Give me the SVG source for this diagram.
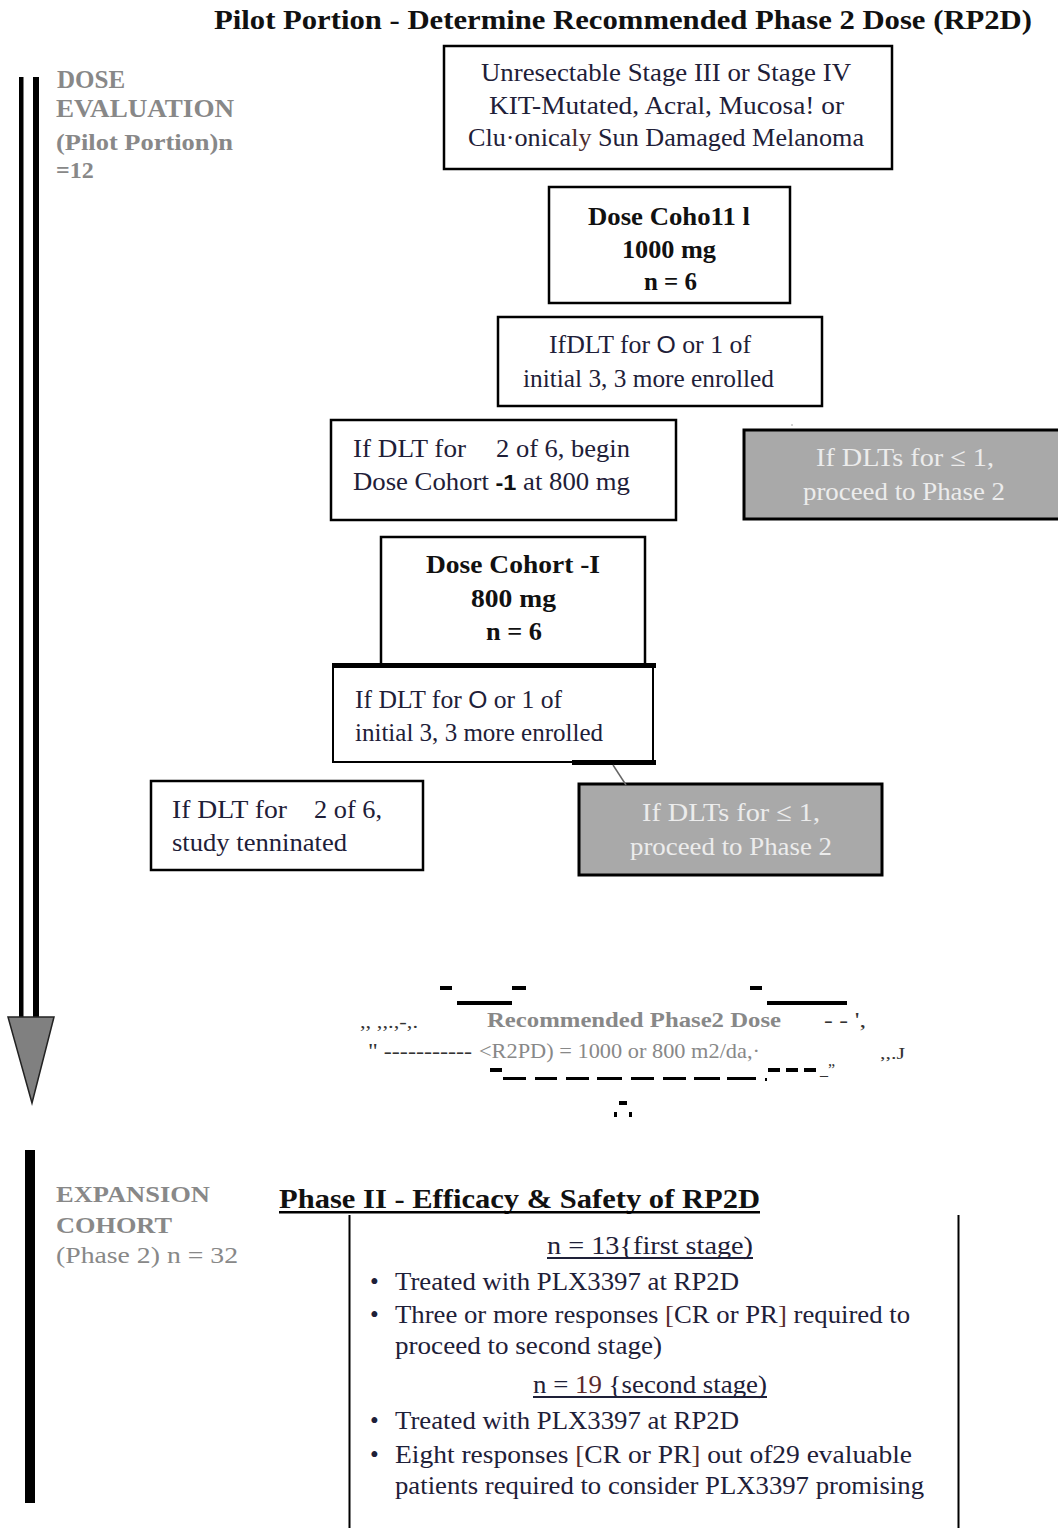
<svg xmlns="http://www.w3.org/2000/svg" width="1058" height="1528" viewBox="0 0 1058 1528">
<style>
text{font-family:"Liberation Serif","Times New Roman",serif}
.t{fill:#1e2038}
.b{font-weight:bold}
.k{fill:#111}
.g{fill:#888}
.w{fill:#ececec}
.d{fill:#333}
.box{fill:#fff;stroke:#000;stroke-width:2.5}
.gbox{fill:#a9a9a9;stroke:#000;stroke-width:3}
.sans{font-family:"Liberation Sans",Arial,sans-serif}
</style>
<rect width="1058" height="1528" fill="#fff"/>
<text class="b k" x="214" y="29" font-size="27" textLength="818" lengthAdjust="spacingAndGlyphs">Pilot Portion - Determine Recommended Phase 2 Dose (RP2D)</text>

<g id="pilot-label">
<rect x="19" y="77" width="4.5" height="940" fill="#000"/>
<rect x="33" y="77" width="6" height="940" fill="#000"/>
<polygon points="8,1017 54,1017 32,1103" fill="#808080" stroke="#222" stroke-width="1.5"/>
<text class="b g" x="57" y="88" font-size="25">DOSE</text>
<text class="b g" x="56" y="117" font-size="25" textLength="178" lengthAdjust="spacingAndGlyphs">EVALUATION</text>
<text class="b g" x="56" y="150" font-size="24" textLength="177" lengthAdjust="spacingAndGlyphs">(Pilot Portion)n</text>
<text class="b g" x="56" y="178" font-size="24">=12</text>
</g>

<g id="n-population">
<rect class="box" x="444" y="46" width="448" height="123"/>
<text class="t" x="481" y="81" font-size="26" textLength="370" lengthAdjust="spacingAndGlyphs">Unresectable Stage III or Stage IV</text>
<text class="t" x="489" y="114" font-size="26" textLength="355" lengthAdjust="spacingAndGlyphs">KIT-Mutated, Acral, Mucosa! or</text>
<text class="t" x="468" y="146" font-size="26" textLength="396" lengthAdjust="spacingAndGlyphs">Clu·onica<tspan fill="#4a2a2a">ly</tspan> Sun Damaged Melanoma</text>
</g>

<g id="n-cohort1">
<rect class="box" x="549" y="187" width="241" height="116"/>
<text class="b k" x="588" y="225" font-size="26" textLength="162" lengthAdjust="spacingAndGlyphs">Dose Coho11 l</text>
<text class="b k" x="622" y="258" font-size="26" textLength="94" lengthAdjust="spacingAndGlyphs">1000 mg</text>
<text class="b k" x="644" y="290" font-size="26" textLength="53" lengthAdjust="spacingAndGlyphs">n = 6</text>
</g>

<g id="n-dlt1">
<rect class="box" x="498" y="317" width="324" height="89"/>
<text class="t" x="549" y="353" font-size="25" textLength="202" lengthAdjust="spacingAndGlyphs">IfDLT for <tspan class="sans" font-size="24">O</tspan> or 1 of</text>
<text class="t" x="523" y="387" font-size="25" textLength="251" lengthAdjust="spacingAndGlyphs">initial 3, 3 more enrolled</text>
</g>

<g id="n-begin-minus1">
<rect class="box" x="331" y="420" width="345" height="100"/>
<text class="t" x="353" y="457" font-size="25" textLength="113" lengthAdjust="spacingAndGlyphs">If DLT for</text>
<text class="t" x="496" y="457" font-size="25" textLength="134" lengthAdjust="spacingAndGlyphs">2 of 6, begin</text>
<text class="t" x="353" y="490" font-size="25" textLength="277" lengthAdjust="spacingAndGlyphs">Dose Cohort <tspan class="sans b k" font-size="22">-1</tspan> at 800 mg</text>
</g>

<g id="n-proceed1">
<rect class="gbox" x="744" y="430" width="318" height="89"/>
<circle cx="792" cy="425" r="0.8" fill="#999"/>
<text class="w" x="816" y="466" font-size="26" textLength="178" lengthAdjust="spacingAndGlyphs">If DLTs for ≤ 1,</text>
<text class="w" x="803" y="500" font-size="26" textLength="202" lengthAdjust="spacingAndGlyphs">proceed to Phase 2</text>
</g>

<g id="n-cohort-minus1">
<path d="M381,665 V537 H645 V665" fill="#fff" stroke="#000" stroke-width="2.5"/>
<text class="b k" x="426" y="573" font-size="26" textLength="174" lengthAdjust="spacingAndGlyphs">Dose Cohort -I</text>
<text class="b k" x="471" y="607" font-size="26" textLength="85" lengthAdjust="spacingAndGlyphs">800 mg</text>
<text class="b k" x="486" y="640" font-size="26" textLength="56" lengthAdjust="spacingAndGlyphs">n = 6</text>
</g>

<g id="n-dlt2">
<rect x="333" y="665" width="320" height="97" fill="#fff" stroke="#000" stroke-width="2"/>
<rect x="332" y="663" width="324" height="5" fill="#000"/>
<rect x="572" y="760" width="84" height="5" fill="#000"/>
<text class="t" x="355" y="708" font-size="25" textLength="207" lengthAdjust="spacingAndGlyphs">If DLT for <tspan class="sans" font-size="24">O</tspan> or 1 of</text>
<text class="t" x="355" y="741" font-size="25" textLength="248" lengthAdjust="spacingAndGlyphs">initial 3, 3 more enrolled</text>
</g>

<g id="n-terminated">
<rect class="box" x="151" y="781" width="272" height="89"/>
<text class="t" x="172" y="818" font-size="25" textLength="115" lengthAdjust="spacingAndGlyphs">If DLT for</text>
<text class="t" x="314" y="818" font-size="25" textLength="68" lengthAdjust="spacingAndGlyphs">2 of 6,</text>
<text class="t" x="172" y="851" font-size="25" textLength="175" lengthAdjust="spacingAndGlyphs">study tenninated</text>
</g>

<g id="n-proceed2">
<rect class="gbox" x="579" y="784" width="303" height="91"/>
<text class="w" x="642" y="821" font-size="26" textLength="178" lengthAdjust="spacingAndGlyphs">If DLTs for ≤ 1,</text>
<text class="w" x="630" y="855" font-size="26" textLength="202" lengthAdjust="spacingAndGlyphs">proceed to Phase 2</text>
</g>

<g id="connectors">
<line x1="613" y1="765" x2="626" y2="785" stroke="#666" stroke-width="1.5"/>
</g>

<g id="n-rp2d">
<g fill="#000">
<rect x="440" y="986" width="12" height="4"/>
<rect x="512" y="986" width="14" height="4"/>
<rect x="750" y="986" width="12" height="4"/>
<rect x="457" y="1001" width="55" height="4"/>
<rect x="767" y="1001" width="80" height="4"/>
<rect x="490" y="1068" width="12" height="4"/>
<rect x="503" y="1077" width="23" height="3"/>
<rect x="535" y="1077" width="22" height="3"/>
<rect x="566" y="1077" width="23" height="3"/>
<rect x="597" y="1077" width="25" height="3"/>
<rect x="631" y="1077" width="23" height="3"/>
<rect x="663" y="1077" width="23" height="3"/>
<rect x="694" y="1077" width="26" height="3"/>
<rect x="727" y="1077" width="29" height="3"/>
<rect x="765" y="1078" width="2" height="3"/>
<rect x="768" y="1068" width="12" height="4"/>
<rect x="786" y="1068" width="12" height="4"/>
<rect x="804" y="1068" width="12" height="4"/>
<rect x="619" y="1101" width="8" height="4"/>
<rect x="614" y="1112" width="3" height="5"/>
<rect x="629" y="1112" width="3" height="5"/>
</g>
<text class="d" x="360" y="1028" font-size="18" textLength="58" lengthAdjust="spacingAndGlyphs">,, ,,.,-,.</text>
<text class="b g" x="487" y="1027" font-size="22" textLength="294" lengthAdjust="spacingAndGlyphs">Recommended Phase2 Dose</text>
<text class="d" x="824" y="1027" font-size="20" textLength="42" lengthAdjust="spacingAndGlyphs">- -  ',</text>
<text class="d" x="368" y="1058" font-size="20" textLength="104" lengthAdjust="spacingAndGlyphs">"  -----------</text>
<text class="g" x="479" y="1058" font-size="22" textLength="281" lengthAdjust="spacingAndGlyphs">&lt;R2PD) = 1000 or 800 m2/da,·</text>
<text class="d" x="880" y="1059" font-size="16" textLength="25" lengthAdjust="spacingAndGlyphs">,,.J</text>
<text class="d" x="820" y="1075" font-size="16">_”</text>
</g>

<g id="expansion-label">
<rect x="25" y="1150" width="10" height="353" fill="#000"/>
<text class="b g" x="56" y="1202" font-size="23" textLength="154" lengthAdjust="spacingAndGlyphs">EXPANSION</text>
<text class="b g" x="56" y="1233" font-size="23" textLength="116" lengthAdjust="spacingAndGlyphs">COHORT</text>
<text class="g" x="56" y="1263" font-size="24" textLength="182" lengthAdjust="spacingAndGlyphs">(Phase 2) n = 32</text>
</g>

<g id="n-phase2">
<text class="b k" x="279" y="1208" font-size="28" textLength="481" lengthAdjust="spacingAndGlyphs">Phase II - Efficacy &amp; Safety of RP2D</text>
<rect x="279" y="1211" width="481" height="2.5" fill="#000"/>
<line x1="349.5" y1="1215" x2="349.5" y2="1528" stroke="#000" stroke-width="2"/>
<line x1="958.5" y1="1215" x2="958.5" y2="1528" stroke="#000" stroke-width="2"/>
<text class="t" x="547" y="1254" font-size="25" textLength="206" lengthAdjust="spacingAndGlyphs">n = 13{first stage)</text>
<rect x="547" y="1257" width="206" height="2" fill="#1e2038"/>
<text class="t" x="370" y="1290" font-size="25">•</text>
<text class="t" x="395" y="1290" font-size="25" textLength="344" lengthAdjust="spacingAndGlyphs">Treated with PLX3397 at RP2D</text>
<text class="t" x="370" y="1323" font-size="25">•</text>
<text class="t" x="395" y="1323" font-size="25" textLength="515" lengthAdjust="spacingAndGlyphs">Three or more responses <tspan fill="#5a2a2a">[</tspan>CR or PR<tspan fill="#5a2a2a">]</tspan> required to</text>
<text class="t" x="395" y="1354" font-size="25" textLength="267" lengthAdjust="spacingAndGlyphs">proceed to second stage)</text>
<text class="t" x="533" y="1393" font-size="25" textLength="234" lengthAdjust="spacingAndGlyphs">n = <tspan fill="#5a2a2a">19</tspan> {second stage)</text>
<rect x="533" y="1396" width="234" height="2" fill="#1e2038"/>
<text class="t" x="370" y="1429" font-size="25">•</text>
<text class="t" x="395" y="1429" font-size="25" textLength="344" lengthAdjust="spacingAndGlyphs">Treated with PLX3397 at RP2D</text>
<text class="t" x="370" y="1463" font-size="25">•</text>
<text class="t" x="395" y="1463" font-size="25" textLength="517" lengthAdjust="spacingAndGlyphs">Eight responses <tspan fill="#5a2a2a">[</tspan>CR or PR<tspan fill="#5a2a2a">]</tspan> out of29 evaluable</text>
<text class="t" x="395" y="1494" font-size="25" textLength="529" lengthAdjust="spacingAndGlyphs">patients required to consider PLX3397 promising</text>
</g>
</svg>
